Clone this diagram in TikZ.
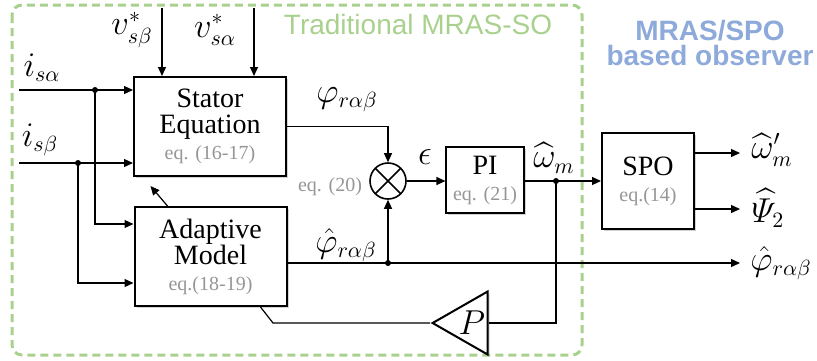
\documentclass[tikz,border=0pt]{standalone}
\usepackage{amsmath}
\usepackage{fontspec}
\setmainfont{Liberation Serif}
\newfontfamily\titlefont{Liberation Sans}
\usetikzlibrary{arrows.meta,shapes.geometric,shadows}

\definecolor{mrasgreen}{RGB}{169,209,142}
\definecolor{spoblue}{RGB}{142,170,219}
\definecolor{eqgray}{RGB}{150,150,150}

\newcommand{\eqtag}[1]{{\color{eqgray}\fontsize{10}{11}\selectfont #1}}

\tikzset{
    block/.style={draw, line width=1pt, fill=white, align=center,
        drop shadow={shadow xshift=1pt, shadow yshift=-1pt, opacity=0.35},
        font=\fontsize{14}{13}\selectfont},
    sig/.style={line width=0.6pt, -{Triangle[length=4.5pt,width=4pt]}},
    wire/.style={line width=0.6pt},
    junction/.style={circle, fill, inner sep=0pt, minimum size=3pt},
    lbl/.style={font=\fontsize{16}{16}\selectfont},
}

\begin{document}
\begin{tikzpicture}[x=0.5pt, y=-0.5pt]
    \useasboundingbox (0,0) rectangle (817,360);

    % frame of the traditional observer
    \draw[mrasgreen, line width=1.5pt, dash pattern=on 4pt off 2.5pt, rounded corners=5pt]
        (12,5) rectangle (582,355);
    \node[text=mrasgreen, font=\titlefont\fontsize{14}{14}\selectfont] (trad) at (418,24) {Traditional MRAS-SO};
    \node[text=spoblue, align=center, font=\titlefont\bfseries\fontsize{14}{12.5}\selectfont] (title) at (710,43) {MRAS/SPO\\based observer};

    % blocks
    \node[block, minimum width=76pt, minimum height=49.5pt] (stator) at (210,126.5)
        {Stator\\Equation\\\eqtag{eq. (16-17)}};
    \node[block, minimum width=76pt, minimum height=49.5pt] (adapt) at (210.5,256.5)
        {Adaptive\\Model\\\eqtag{eq.(18-19)}};
    \node[draw, line width=0.8pt, circle, minimum size=18pt, inner sep=0pt,
          path picture={
            \draw[line width=0.8pt] (path picture bounding box.north west) -- (path picture bounding box.south east);
            \draw[line width=0.8pt] (path picture bounding box.north east) -- (path picture bounding box.south west);
          }] (sum) at (388,181) {};
    \node[block, minimum width=34pt, minimum height=33pt] (pi) at (485,180) {PI\\\eqtag{eq. (21)}};
    \node[block, minimum width=46pt, minimum height=48pt] (spo) at (648,181) {SPO\\\eqtag{eq.(14)}};
    \node[draw, line width=1pt, fill=white, isosceles triangle, isosceles triangle stretches,
          shape border rotate=180, minimum width=31.5pt, minimum height=27.5pt, inner sep=0pt,
          anchor=apex, font=\fontsize{16}{16}\selectfont,
          drop shadow={shadow xshift=1pt, shadow yshift=-1pt, opacity=0.35}] (gain) at (430,323) {$P$};

    % free ends
    \coordinate (vsb) at (162,8);
    \coordinate (vsa) at (254,8);
    \coordinate (isa) at (19,90);
    \coordinate (isb) at (19,163);
    \coordinate (ja) at (95,90);
    \coordinate (jb) at (78,163);
    \coordinate (wm) at (556,181);
    \coordinate (wout) at (740,153);
    \coordinate (psiout) at (740,209);
    \coordinate (phiout) at (740,263);
    \coordinate (fbk) at (273,323);

    % inputs
    \draw[sig] (vsb) -- (vsb |- stator.north);
    \draw[sig] (vsa) -- (vsa |- stator.north);
    \draw[sig] (isa) -- (isa -| stator.west);
    \draw[sig] (isb) -- (isb -| stator.west);
    \draw[sig] (ja) |- ([yshift=16.25pt]adapt.west);
    \draw[sig] (jb) |- ([yshift=-13.25pt]adapt.west);
    \node[junction] at (ja) {};
    \node[junction] at (jb) {};

    % error path
    \draw[sig] (stator.east) -| (sum.north);
    \draw[sig] (adapt.east |- phiout) -| (sum.south);
    \draw[sig] (adapt.east |- phiout) -- (phiout);
    \node[junction] at (sum.south |- phiout) {};
    \draw[sig] (sum.east) -- (sum.east -| pi.west);
    \draw[sig] (pi.east |- wm) -- (spo.west |- wm);
    \node[junction] at (wm) {};
    \draw[sig] (spo.east |- wout) -- (wout);
    \draw[sig] (spo.east |- psiout) -- (psiout);

    % feedback
    \draw[wire] (wm) |- (gain.lower side);
    \draw[wire] (gain.apex) -- (fbk) -- ([xshift=25pt]adapt.south);
    \draw[sig] ([xshift=-21.5pt]adapt.north) -- ++(-17,-20);

    % signal names
    \node[lbl] (lvsb) at (132,30) {$v_{s\beta}^{*}$};
    \node[lbl] (lvsa) at (215,30) {$v_{s\alpha}^{*}$};
    \node[lbl] (lisa) at (42,68) {$i_{s\alpha}$};
    \node[lbl] (lisb) at (40,140) {$i_{s\beta}$};
    \node[lbl] (lphi) at (347,100) {$\varphi_{r\alpha\beta}$};
    \node[lbl] (lphih) at (346,245) {$\hat{\varphi}_{r\alpha\beta}$};
    \node[text=eqgray, font=\fontsize{10}{11}\selectfont] (leq) at (330,187) {eq. (20)};
    \node[lbl] (leps) at (425,157) {$\epsilon$};
    \node[lbl] (lwm) at (554,158) {$\widehat{\omega}_{m}$};
    \node[lbl] (lwout) at (772,150) {$\widehat{\omega}'_{m}$};
    \node[lbl] (lpsi) at (768,208) {$\widehat{\varPsi}_{2}$};
    \node[lbl] (lphiout) at (781,263) {$\hat{\varphi}_{r\alpha\beta}$};
\end{tikzpicture}
\end{document}
